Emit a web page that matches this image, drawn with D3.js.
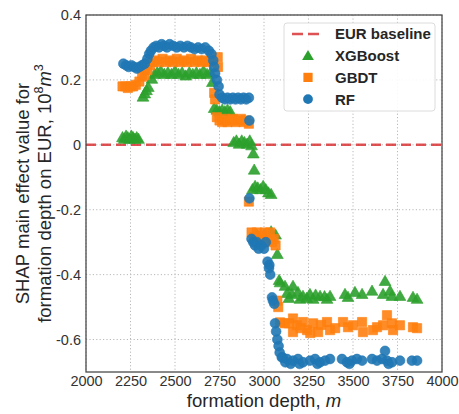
<!DOCTYPE html>
<html>
<head>
<meta charset="utf-8">
<script src="https://cdn.jsdelivr.net/npm/d3@7"></script>
<style>
  body { margin: 0; background: #fff; }
  svg { display: block; font-family: "Liberation Sans", Arial, sans-serif; }
</style>
</head>
<body>
<div id="chart"></div>
<script>
// [formation depth (m), SHAP main effect (1e8 m3)]
const xgboost = [
  [2205, 0.02], [2215, 0.015], [2225, 0.025], [2235, 0.02], [2245, 0.015], [2255, 0.025],
  [2265, 0.02], [2275, 0.015], [2285, 0.02], [2295, 0.015],
  [2320, 0.145], [2330, 0.155], [2340, 0.165], [2350, 0.175],
  [2370, 0.2], [2385, 0.215], [2400, 0.22], [2420, 0.225], [2440, 0.215], [2460, 0.22],
  [2480, 0.215], [2500, 0.225], [2520, 0.215], [2540, 0.22], [2560, 0.21], [2580, 0.22],
  [2600, 0.215], [2620, 0.22], [2640, 0.215], [2660, 0.225], [2680, 0.215], [2700, 0.22],
  [2710, 0.19], [2720, 0.11], [2735, 0.105], [2750, 0.1], [2765, 0.105], [2780, 0.1],
  [2795, 0.105], [2810, 0.1],
  [2830, 0.005], [2845, 0.01], [2860, 0.0], [2875, 0.01], [2890, 0.005], [2905, 0.0],
  [2920, 0.01], [2930, -0.005], [2940, -0.03], [2945, -0.08],
  [2935, -0.14], [2950, -0.13], [2965, -0.135], [2980, -0.14], [2995, -0.13], [3010, -0.14],
  [3025, -0.15], [3040, -0.155],
  [2960, -0.28], [3000, -0.28], [3040, -0.27], [3065, -0.28], [3075, -0.34], [3085, -0.42],
  [3090, -0.427], [3118, -0.438], [3163, -0.438], [3157, -0.463], [3191, -0.457], [3202, -0.478],
  [3219, -0.469], [3258, -0.463], [3276, -0.478], [3315, -0.469], [3354, -0.478], [3371, -0.469],
  [3455, -0.463], [3472, -0.472], [3511, -0.457], [3551, -0.463], [3607, -0.453], [3669, -0.463],
  [3680, -0.423], [3708, -0.453], [3719, -0.469], [3764, -0.469], [3837, -0.472], [3860, -0.478],
  [3140, -0.475], [3130, -0.46], [3240, -0.475], [3290, -0.465], [3340, -0.47]
]

const gbdt = [
  [2205, 0.18], [2220, 0.18], [2235, 0.175], [2250, 0.18], [2265, 0.18], [2280, 0.185],
  [2300, 0.195], [2315, 0.21], [2330, 0.215], [2345, 0.23], [2360, 0.245], [2375, 0.255],
  [2390, 0.26], [2410, 0.255], [2430, 0.265], [2450, 0.255], [2470, 0.26], [2490, 0.255],
  [2510, 0.265], [2530, 0.255], [2550, 0.26], [2570, 0.255], [2590, 0.265], [2610, 0.255],
  [2630, 0.26], [2650, 0.255], [2670, 0.26], [2690, 0.255], [2710, 0.26], [2740, 0.27],
  [2742, 0.24], [2720, 0.16], [2725, 0.14],
  [2735, 0.085], [2750, 0.075], [2765, 0.07], [2780, 0.08], [2795, 0.07], [2810, 0.075],
  [2825, 0.08], [2840, 0.07], [2855, 0.075], [2870, 0.08], [2885, 0.07], [2900, 0.075], [2915, 0.065],
  [2915, -0.175],
  [2930, -0.27], [2945, -0.285], [2960, -0.27], [2975, -0.3], [2990, -0.28], [3005, -0.27],
  [3020, -0.29], [3035, -0.27], [3045, -0.3], [3055, -0.29], [3065, -0.31],
  [3075, -0.48], [3080, -0.5],
  [3090, -0.547], [3118, -0.55], [3163, -0.535], [3185, -0.556], [3163, -0.577], [3219, -0.546],
  [3242, -0.571], [3276, -0.55], [3304, -0.577], [3354, -0.546], [3371, -0.571], [3444, -0.546],
  [3472, -0.562], [3500, -0.556], [3551, -0.546], [3556, -0.577], [3612, -0.571], [3635, -0.562],
  [3669, -0.556], [3691, -0.525], [3719, -0.55], [3725, -0.571], [3764, -0.556], [3837, -0.562],
  [3860, -0.565], [3140, -0.55], [3205, -0.565], [3260, -0.58], [3320, -0.555], [3400, -0.565]
]

const rf = [
  [2210, 0.25], [2225, 0.245], [2240, 0.24], [2255, 0.245], [2270, 0.24], [2285, 0.235],
  [2300, 0.24], [2315, 0.245], [2330, 0.25], [2345, 0.265], [2355, 0.28], [2365, 0.29],
  [2380, 0.3], [2395, 0.305], [2410, 0.3], [2425, 0.31], [2440, 0.305], [2455, 0.3],
  [2470, 0.31], [2490, 0.305], [2510, 0.3], [2530, 0.305], [2550, 0.3], [2570, 0.305],
  [2590, 0.3], [2610, 0.295], [2630, 0.3], [2650, 0.295], [2670, 0.3], [2690, 0.29],
  [2705, 0.28], [2715, 0.26], [2720, 0.24], [2725, 0.22], [2735, 0.2], [2745, 0.18],
  [2750, 0.155], [2765, 0.145], [2780, 0.14], [2795, 0.145], [2810, 0.14], [2825, 0.145],
  [2840, 0.14], [2855, 0.145], [2870, 0.14], [2885, 0.145], [2900, 0.14], [2915, 0.145],
  [2918, 0.075], [2918, -0.165],
  [2930, -0.29], [2940, -0.3], [2950, -0.31], [2960, -0.3], [2970, -0.32], [2985, -0.31],
  [3000, -0.32], [3010, -0.3],
  [3020, -0.36], [3030, -0.37], [3028, -0.38], [3035, -0.4],
  [3045, -0.47], [3050, -0.48], [3058, -0.49],
  [3062, -0.55], [3068, -0.575], [3075, -0.6], [3082, -0.62], [3088, -0.64], [3100, -0.655],
  [3105, -0.655], [3120, -0.67], [3129, -0.66], [3150, -0.675], [3163, -0.665], [3191, -0.66],
  [3200, -0.675], [3219, -0.67], [3258, -0.665], [3287, -0.66], [3300, -0.675], [3315, -0.67],
  [3343, -0.665], [3371, -0.66], [3438, -0.66], [3466, -0.67], [3480, -0.675], [3494, -0.665],
  [3522, -0.66], [3551, -0.665], [3607, -0.66], [3635, -0.665], [3663, -0.66], [3680, -0.635],
  [3691, -0.665], [3700, -0.675], [3719, -0.67], [3764, -0.665], [3831, -0.665], [3860, -0.665]
]

const xTicks = [2000, 2250, 2500, 2750, 3000, 3250, 3500, 3750, 4000]
const yTicks = [0.4, 0.2, 0, -0.2, -0.4, -0.6]
const baseline = 0

const COLORS = { xgb: "#2ca02c", gbdt: "#ff7f0e", rf: "#1f77b4", base: "#d62728" }

const W = 459, H = 414
const margin = { top: 15, right: 17, bottom: 42, left: 86 }
const width = W - margin.left - margin.right
const height = H - margin.top - margin.bottom

const svg = d3.select("#chart").append("svg")
  .attr("width", W).attr("height", H)

const g = svg.append("g")
  .attr("transform", "translate(" + margin.left + "," + margin.top + ")")

const x = d3.scaleLinear().domain([2000, 4000]).range([0, width])
const y = d3.scaleLinear().domain([-0.7, 0.4]).range([height, 0])

// grid
g.append("g").selectAll("line").data(xTicks).enter().append("line")
  .attr("x1", d => x(d)).attr("x2", d => x(d)).attr("y1", 0).attr("y2", height)
  .attr("stroke", "#b8b8b8").attr("stroke-width", 1).attr("stroke-dasharray", "1.2,2.2")
g.append("g").selectAll("line").data(yTicks).enter().append("line")
  .attr("x1", 0).attr("x2", width).attr("y1", d => y(d)).attr("y2", d => y(d))
  .attr("stroke", "#b8b8b8").attr("stroke-width", 1).attr("stroke-dasharray", "1.2,2.2")

// axes (labels only, no tick marks)
const fmt = d => d === 0 ? "0" : String(d)
const xAxis = g.append("g").attr("transform", "translate(0," + height + ")")
  .call(d3.axisBottom(x).tickValues(xTicks).tickSize(0).tickPadding(4).tickFormat(d3.format("d")))
const yAxis = g.append("g")
  .call(d3.axisLeft(y).tickValues(yTicks).tickSize(0).tickPadding(5).tickFormat(fmt))
;[xAxis, yAxis].forEach(a => {
  a.select(".domain").remove()
  a.selectAll("text").attr("font-size", 14.5).attr("fill", "#333")
    .attr("font-family", "Liberation Sans, Arial, sans-serif")
})

// baseline
g.append("line")
  .attr("x1", 0).attr("x2", width).attr("y1", y(baseline)).attr("y2", y(baseline))
  .attr("stroke", COLORS.base).attr("stroke-opacity", 0.8)
  .attr("stroke-width", 2.5).attr("stroke-dasharray", "10,5")

// markers
const tri = d3.symbol().type(d3.symbolTriangle).size(60)
const sq = d3.symbol().type(d3.symbolSquare).size(85)

g.append("g").selectAll("path").data(xgboost).enter().append("path")
  .attr("d", tri)
  .attr("transform", d => "translate(" + x(d[0]) + "," + y(d[1]) + ")")
  .attr("fill", COLORS.xgb).attr("fill-opacity", 0.9)
  .attr("stroke", COLORS.xgb).attr("stroke-opacity", 0.6).attr("stroke-width", 1)

g.append("g").selectAll("path").data(gbdt).enter().append("path")
  .attr("d", sq)
  .attr("transform", d => "translate(" + x(d[0]) + "," + y(d[1]) + ")")
  .attr("fill", COLORS.gbdt).attr("fill-opacity", 0.9)
  .attr("stroke", COLORS.gbdt).attr("stroke-opacity", 0.6).attr("stroke-width", 1)

g.append("g").selectAll("circle").data(rf).enter().append("circle")
  .attr("cx", d => x(d[0])).attr("cy", d => y(d[1])).attr("r", 4.9)
  .attr("fill", COLORS.rf).attr("fill-opacity", 0.9)
  .attr("stroke", COLORS.rf).attr("stroke-opacity", 0.6).attr("stroke-width", 1)

// frame
g.append("rect").attr("width", width).attr("height", height)
  .attr("fill", "none").attr("stroke", "#444").attr("stroke-width", 1.25)

// legend
const leg = g.append("g").attr("transform", "translate(" + (284 - margin.left) + "," + (23 - margin.top) + ")")
leg.append("rect").attr("width", 151).attr("height", 88).attr("rx", 3)
  .attr("fill", "#fff").attr("fill-opacity", 0.9).attr("stroke", "#dcdcdc").attr("stroke-width", 1)
const items = [
  { name: "EUR baseline", kind: "line" },
  { name: "XGBoost", kind: "tri" },
  { name: "GBDT", kind: "sq" },
  { name: "RF", kind: "circle" }
]
items.forEach((it, i) => {
  const cy = 11 + i * 21.7
  if (it.kind === "line") {
    leg.append("line").attr("x1", 8).attr("x2", 36).attr("y1", cy).attr("y2", cy)
      .attr("stroke", COLORS.base).attr("stroke-opacity", 0.8)
      .attr("stroke-width", 2.5).attr("stroke-dasharray", "11,5")
  } else if (it.kind === "tri") {
    leg.append("path").attr("d", tri).attr("transform", "translate(24," + (cy + 1) + ")")
      .attr("fill", COLORS.xgb)
  } else if (it.kind === "sq") {
    leg.append("path").attr("d", sq).attr("transform", "translate(24," + cy + ")")
      .attr("fill", COLORS.gbdt)
  } else {
    leg.append("circle").attr("cx", 24).attr("cy", cy).attr("r", 4.9).attr("fill", COLORS.rf)
  }
  leg.append("text").attr("x", 51).attr("y", cy).attr("dy", "0.36em")
    .attr("font-size", 15).attr("font-weight", "bold").attr("fill", "#262626")
    .text(it.name)
})

// axis titles
svg.append("text")
  .attr("x", margin.left + width / 2).attr("y", 407)
  .attr("text-anchor", "middle").attr("font-size", 18.5).attr("fill", "#262626")
  .text("formation depth, ")
  .append("tspan").attr("font-style", "italic").text("m")

const yl = svg.append("text")
  .attr("transform", "translate(29," + (margin.top + height / 2) + ") rotate(-90)")
  .attr("text-anchor", "middle").attr("font-size", 18.5).attr("fill", "#262626")
yl.append("tspan").attr("x", 0).attr("y", 0).text("SHAP main effect value for")
yl.append("tspan").attr("x", 0).attr("y", 22).text("formation depth on EUR, 10")
yl.append("tspan").attr("dy", -8).attr("font-size", 12.5).text("8")
yl.append("tspan").attr("dy", 8).attr("font-style", "italic").text("m")
yl.append("tspan").attr("dy", -8).attr("font-size", 12.5).text("3")
</script>
</body>
</html>
